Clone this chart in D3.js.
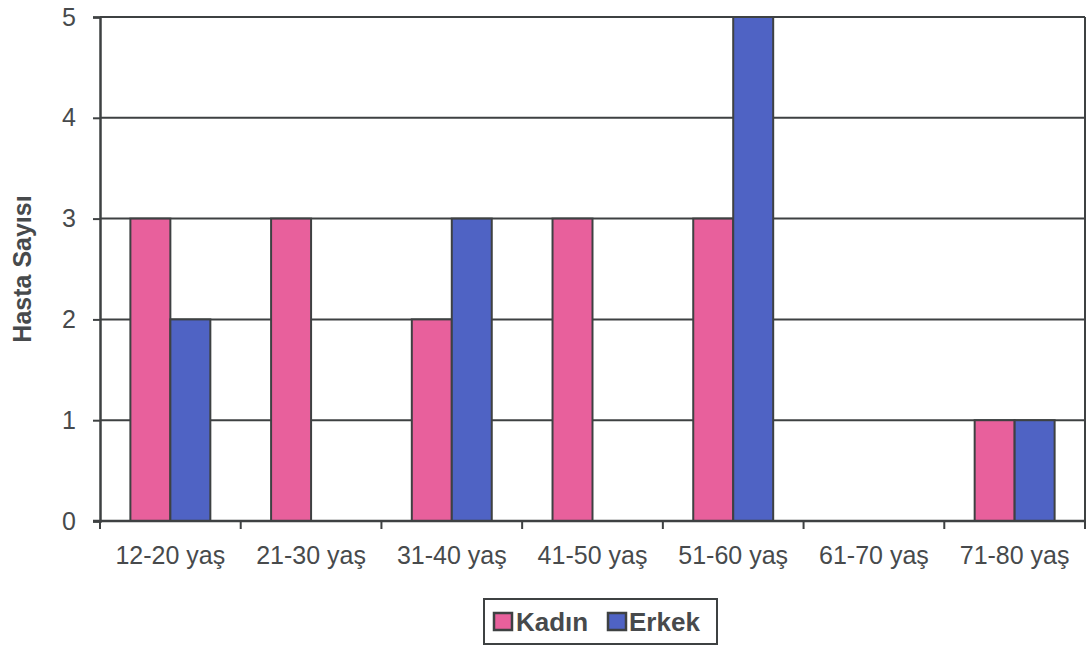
<!DOCTYPE html>
<html>
<head>
<meta charset="utf-8">
<script src="https://cdn.jsdelivr.net/npm/d3@7"></script>
<style>
  body { margin: 0; background: #fff; }
  svg { display: block; }
  text { font-family: Arial, "Liberation Sans", sans-serif; }
</style>
</head>
<body>
<svg id="chart" width="1088" height="646"></svg>
<script>
// Patient counts by age group and sex
const categories = ["12-20 yaş", "21-30 yaş", "31-40 yaş", "41-50 yaş", "51-60 yaş", "61-70 yaş", "71-80 yaş"];
const seriesNames = ["Kadın", "Erkek"];
const kadin = [3, 3, 2, 3, 3, 0, 1];
const erkek = [2, 0, 3, 0, 5, 0, 1];
const yTicks = [0, 1, 2, 3, 4, 5];
const colors = ["#e8609c", "#4f63c4"];

const svg = d3.select("#chart");
const margin = { left: 100, right: 3, top: 17, bottom: 125 };
const W = 1088, H = 646;
const plotW = W - margin.left - margin.right;
const plotH = H - margin.top - margin.bottom;
const ink = "#3e4142";
const labelInk = "#474a4c";

const g = svg.append("g").attr("transform", `translate(${margin.left},${margin.top})`);

const x0 = d3.scaleBand().domain(categories).range([0, plotW]).paddingInner(0).paddingOuter(0);
const x1 = d3.scaleBand().domain(seriesNames).range([0, x0.bandwidth()]).paddingInner(0).paddingOuter(0.76);
const y = d3.scaleLinear().domain([0, 5]).range([plotH, 0]);

// horizontal gridlines
g.append("g").selectAll("line").data(yTicks.slice(1)).join("line")
  .attr("x1", 0).attr("x2", plotW)
  .attr("y1", d => y(d)).attr("y2", d => y(d))
  .attr("stroke", ink).attr("stroke-width", 2);

// right border of plot area
g.append("line").attr("x1", plotW).attr("x2", plotW).attr("y1", 0).attr("y2", plotH)
  .attr("stroke", ink).attr("stroke-width", 2);

// bars
const rows = categories.map((c, i) => ({ cat: c, values: [kadin[i], erkek[i]] }));
const groups = g.append("g").selectAll("g").data(rows).join("g")
  .attr("transform", d => `translate(${x0(d.cat)},0)`);
groups.selectAll("rect")
  .data(d => d.values.map((v, j) => ({ key: seriesNames[j], value: v, j })).filter(e => e.value > 0))
  .join("rect")
  .attr("x", d => x1(d.key))
  .attr("width", x1.bandwidth())
  .attr("y", d => y(d.value))
  .attr("height", d => y(0) - y(d.value))
  .attr("fill", d => colors[d.j])
  .attr("stroke", ink).attr("stroke-width", 2);

// y axis
const yAxis = g.append("g").call(d3.axisLeft(y).tickValues(yTicks).tickSize(7).tickPadding(17).tickFormat(d3.format("d")));
yAxis.select(".domain").attr("stroke", ink).attr("stroke-width", 2.5);
yAxis.selectAll(".tick line").attr("stroke", ink).attr("stroke-width", 2);
yAxis.selectAll(".tick text").attr("font-size", 25).attr("fill", labelInk)
  .attr("font-family", "Arial, 'Liberation Sans', sans-serif");

// x axis with ticks at category boundaries
const xAxisG = g.append("g").attr("transform", `translate(0,${plotH})`);
xAxisG.append("line").attr("x1", -7).attr("x2", plotW).attr("y1", 0).attr("y2", 0)
  .attr("stroke", ink).attr("stroke-width", 2.5);
const bounds = categories.map(c => x0(c)).concat([plotW]);
xAxisG.selectAll(".btick").data(bounds).join("line").attr("class", "btick")
  .attr("x1", d => d).attr("x2", d => d).attr("y1", 0).attr("y2", 8)
  .attr("stroke", ink).attr("stroke-width", 2);
xAxisG.selectAll(".clabel").data(categories).join("text").attr("class", "clabel")
  .attr("x", d => x0(d) + x0.bandwidth() / 2)
  .attr("y", 43)
  .attr("text-anchor", "middle")
  .attr("font-size", 25).attr("fill", labelInk)
  .text(d => d);

// y axis title
svg.append("text")
  .attr("transform", `translate(31,${margin.top + plotH / 2}) rotate(-90)`)
  .attr("text-anchor", "middle")
  .attr("font-size", 25).attr("font-weight", "bold").attr("fill", labelInk)
  .text("Hasta Sayısı");

// legend
const lg = svg.append("g").attr("transform", "translate(484,599)");
lg.append("rect").attr("x", 0).attr("y", 0).attr("width", 233).attr("height", 45)
  .attr("fill", "#fff").attr("stroke", ink).attr("stroke-width", 2);
const items = [{ name: seriesNames[0], x: 10, tx: 32 }, { name: seriesNames[1], x: 124, tx: 145 }];
items.forEach((it, i) => {
  lg.append("rect").attr("x", it.x).attr("y", 14).attr("width", 18).attr("height", 17)
    .attr("fill", colors[i]).attr("stroke", ink).attr("stroke-width", 2.5);
  lg.append("text").attr("x", it.tx).attr("y", 32)
    .attr("font-size", 26).attr("font-weight", "bold").attr("fill", labelInk)
    .text(it.name);
});
</script>
</body>
</html>
